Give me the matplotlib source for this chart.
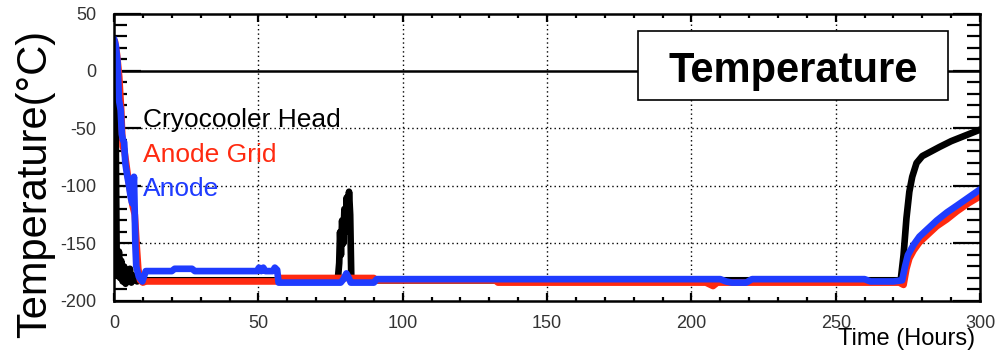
import matplotlib
matplotlib.use("Agg")
import matplotlib.pyplot as plt
from matplotlib.patches import Rectangle
from matplotlib.ticker import MultipleLocator

plt.rcParams["font.family"] = ["Liberation Sans", "DejaVu Sans"]
plt.rcParams["axes.unicode_minus"] = False

# Cryocooler head (black)
head_t = [0, 0.3, 0.6, 0.9, 1.3, 1.7, 2.1, 2.5, 3.0, 3.5, 4.0, 4.5, 5.0, 5.5, 6.0,
          7.0, 8.0, 9.0, 10, 30, 56, 77.5, 78.0, 78.3, 78.6, 79.0, 79.4, 79.8, 80.2,
          80.6, 81.0, 81.4, 81.8, 82.2, 100, 150, 200, 250, 272.5, 273.5, 274.5,
          275.5, 276.5, 278, 280, 283, 286, 290, 295, 300]
head_v = [25, 10, -60, -160, -178, -157, -180, -165, -183, -170, -185, -176, -182, -172, -184,
          -178, -183, -180, -182, -182, -182, -182, -167, -140, -160, -130, -150, -120, -140,
          -110, -130, -105, -125, -182, -182, -182, -182, -182, -182, -160, -128,
          -105, -92, -80, -74, -70, -66, -61, -56, -51]

# Anode grid (red)
grid_t = [0.3, 1.0, 1.8, 2.5, 3.0, 3.5, 4.2, 5.0, 5.8, 6.5, 7.2, 7.8, 8.4, 9.0, 10, 11, 56,
          57, 90, 91, 132, 133, 205, 207.5, 209, 272, 273.5, 274.5, 275.5, 277, 279,
          282, 285, 288.5, 292, 296, 300]
grid_v = [26, 15, -5, -35, -66, -68, -80, -95, -108, -118, -125, -150, -172, -182, -184, -183, -183,
          -180, -180, -182, -182, -184, -184, -187, -184, -184, -186, -172, -163, -156, -149,
          -142, -135, -129, -122, -115, -109]

# Anode (blue)
anode_t = [0, 0.6, 1.2, 1.7, 2.3, 2.7, 3.1, 3.5, 3.9, 4.5, 5.2, 5.8, 6.3, 6.9, 7.2, 7.4,
           7.7, 8.6, 9.8, 11, 20, 21, 27, 28, 49.5, 50.2, 51, 51.7, 52.4, 55, 55.7,
           56.5, 57, 78.5, 79.5, 80.5, 81.5, 82, 90, 91, 210, 212, 214, 219, 221, 260,
           262, 270, 273, 274, 275, 277, 279, 282, 285, 288.5, 292, 296, 300]
anode_v = [28, 22, 8, -25, -34, -55, -60, -62, -80, -90, -100, -110, -115, -92, -127, -152,
           -170, -179, -183, -174, -174, -172, -172, -174, -174, -171, -174, -171, -174, -174, -171,
           -173, -184, -184, -181, -176, -181, -184, -184, -181, -181, -183, -184, -184, -181, -181,
           -183, -183, -182, -170, -160, -151, -144, -137, -130, -123, -117, -110, -103]

LABELS = ["Cryocooler Head", "Anode Grid", "Anode"]
COLORS = ["#000000", "#ff2a10", "#1f3cff"]


def main() -> None:
    fig = plt.figure(figsize=(9.96, 3.6), dpi=100)
    ax = fig.add_axes([0.1145, 0.1639, 0.8695, 0.7986])

    ax.set_xlim(0, 300)
    ax.set_ylim(-200, 50)

    # grid + zero line
    for gx in (50, 100, 150, 200, 250):
        ax.axvline(gx, color="black", lw=1.0, ls=(0, (1, 2.2)), zorder=1)
    for gy in (-50, -100, -150):
        ax.axhline(gy, color="black", lw=1.0, ls=(0, (1, 2.2)), zorder=1)
    ax.axhline(0, color="black", lw=1.8, zorder=1)

    series = [(head_t, head_v), (grid_t, grid_v), (anode_t, anode_v)]
    for (t, v), c in zip(series, COLORS):
        ax.plot(t, v, color=c, lw=4.8, solid_joinstyle="round",
                solid_capstyle="round", zorder=3)

    # legend-like labels
    for lab, c, yv in zip(LABELS, COLORS, (-48.5, -79, -109)):
        ax.text(10, yv, lab, color=c, fontsize=19, va="baseline", ha="left", zorder=4)

    # title box
    ax.add_patch(Rectangle((0.605, 0.699), 0.358, 0.240, transform=ax.transAxes,
                           facecolor="white", edgecolor="black", lw=1.2, zorder=5))
    ax.text(0.7845, 0.762, "Temperature", transform=ax.transAxes, fontsize=30,
            fontweight="bold", ha="center", va="baseline", zorder=6)

    # ROOT-style ticks on all sides
    ax.xaxis.set_major_locator(MultipleLocator(50))
    ax.xaxis.set_minor_locator(MultipleLocator(10))
    ax.yaxis.set_major_locator(MultipleLocator(50))
    ax.yaxis.set_minor_locator(MultipleLocator(10))
    ax.tick_params(axis="both", which="both", direction="in", top=True, right=True,
                   width=1.6, color="black")
    ax.tick_params(axis="x", which="major", length=6, pad=10)
    ax.tick_params(axis="x", which="minor", length=3)
    ax.tick_params(axis="y", which="major", length=19.5, pad=13)
    ax.tick_params(axis="y", which="minor", length=9.5)
    ax.tick_params(axis="both", which="major", labelsize=13, labelcolor="#333333")
    for sp in ax.spines.values():
        sp.set_linewidth(1.8)
        sp.set_zorder(7)

    ax.set_xlabel("Time (Hours)", fontsize=17)
    ax.xaxis.label.set_ha("right")
    ax.xaxis.label.set_va("baseline")
    ax.xaxis.set_label_coords(0.994, -0.153)

    ax.set_ylabel("Temperature(°C)", fontsize=30)
    ax.yaxis.label.set_va("center")
    ax.yaxis.set_label_coords(-0.0907, 0.407)

    fig.savefig("out.png", dpi=100)


if __name__ == "__main__":
    main()
